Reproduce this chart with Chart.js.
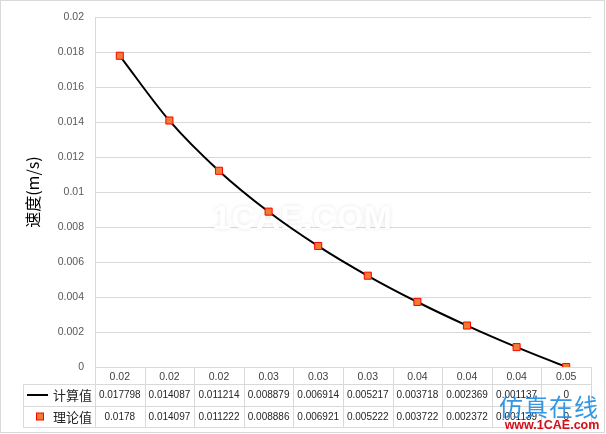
<!DOCTYPE html>
<html>
<head>
<meta charset="utf-8">
<script src="https://cdn.jsdelivr.net/npm/chart.js@4"></script>
<style>
html,body{margin:0;padding:0;background:#fff;}
#wrap{width:606px;height:434px;position:relative;}
</style>
</head>
<body>
<div id="wrap"><canvas id="c" width="606" height="434"></canvas></div>
<script>
const categories = ['0.02','0.02','0.02','0.03','0.03','0.03','0.04','0.04','0.04','0.05'];
const calcValues = [0.017798,0.014087,0.011214,0.008879,0.006914,0.005217,0.003718,0.002369,0.001137,0];
const theoryValues = [0.0178,0.014097,0.011222,0.008886,0.006921,0.005222,0.003722,0.002372,0.001139,0];
const seriesNames = ['计算值','理论值'];
const yTitle = '速度(m/s)';
const yMin = 0, yMax = 0.02, yStep = 0.002;

const GRID = '#d9d9d9';
const NUMFONT = '"Liberation Sans", Arial, sans-serif';
const CJK = '"Noto Sans CJK SC", sans-serif';

const tablePlugin = {
  id: 'tablePlugin',
  beforeDatasetsDraw(chart) {
    const ctx = chart.ctx;
    ctx.save();
    ctx.font = 'bold 34px ' + NUMFONT;
    ctx.textAlign = 'center';
    ctx.textBaseline = 'middle';
    ctx.shadowColor = 'rgba(0,0,0,0.10)';
    ctx.shadowBlur = 4;
    ctx.fillStyle = '#ffffff';
    ctx.fillText('1CAE.COM', 302, 220);
    ctx.restore();
  },
  afterDraw(chart) {
    const ctx = chart.ctx;
    const a = chart.chartArea;
    const xs = chart.scales.x;
    const n = categories.length;
    const w = (a.right - a.left) / n;
    const r0 = a.bottom, r1 = 384.5, r2 = 406.5, r3 = 427.5, tl = 23.5;
    ctx.save();
    ctx.strokeStyle = GRID;
    ctx.lineWidth = 1;
    ctx.strokeRect(0.5, 0.5, 604, 432);
    ctx.beginPath();
    const lx = Math.round(a.left) + 0.5;
    ctx.moveTo(lx, a.top); ctx.lineTo(lx, r3);
    for (let i = 1; i <= n; i++) {
      const x = Math.round(a.left + i * w) + 0.5;
      ctx.moveTo(x, r0); ctx.lineTo(x, r3);
    }
    [r1, r2, r3].forEach(y => { ctx.moveTo(tl, y); ctx.lineTo(Math.round(a.right) + 0.5, y); });
    ctx.moveTo(tl, r1); ctx.lineTo(tl, r3);
    ctx.stroke();

    ctx.textAlign = 'center';
    ctx.textBaseline = 'middle';
    ctx.font = '10.5px ' + NUMFONT;
    ctx.fillStyle = '#404040';
    categories.forEach((c, i) => {
      ctx.fillText(c, xs.getPixelForValue(i), 377);
    });
    ctx.font = '10px ' + NUMFONT;
    ctx.fillStyle = '#262626';
    calcValues.forEach((v, i) => {
      ctx.fillText(String(v), xs.getPixelForValue(i), 395.5);
    });
    theoryValues.forEach((v, i) => {
      ctx.fillText(String(v), xs.getPixelForValue(i), 417);
    });
    ctx.textAlign = 'right';
    ctx.font = '13px ' + CJK;
    ctx.fillStyle = '#262626';
    ctx.fillText(seriesNames[0], 92, 395.5);
    ctx.fillText(seriesNames[1], 92, 417);
    ctx.strokeStyle = '#000';
    ctx.lineWidth = 2;
    ctx.beginPath(); ctx.moveTo(27, 395); ctx.lineTo(48, 395); ctx.stroke();
    ctx.fillStyle = '#ed7d31';
    ctx.strokeStyle = '#ff0000';
    ctx.lineWidth = 1;
    ctx.fillRect(36.5, 413, 7, 7);
    ctx.strokeRect(36.5, 413, 7, 7);

    ctx.textAlign = 'center';
    ctx.font = '24px ' + CJK;
    ctx.fillStyle = 'rgba(30,140,225,0.9)';
    ['仿','真','在','线'].forEach((ch, i) => ctx.fillText(ch, 511 + i * 25, 407));
    ctx.font = 'bold 12.5px ' + NUMFONT;
    ctx.fillStyle = '#d0101a';
    ctx.fillText('www.1CAE.com', 552, 426);
    ctx.restore();
  }
};

new Chart(document.getElementById('c'), {
  type: 'line',
  data: {
    labels: categories,
    datasets: [
      {
        label: seriesNames[0],
        data: calcValues,
        borderColor: '#000000',
        borderWidth: 2,
        pointRadius: 0,
        fill: false,
        cubicInterpolationMode: 'monotone',
        order: 1
      },
      {
        label: seriesNames[1],
        data: theoryValues,
        showLine: false,
        pointStyle: 'rect',
        pointRadius: 5,
        backgroundColor: '#ed7d31',
        borderColor: '#ff0000',
        borderWidth: 1,
        order: 0
      }
    ]
  },
  options: {
    responsive: false,
    animation: false,
    events: [],
    layout: { padding: { top: 16, right: 15, bottom: 67, left: 0 } },
    plugins: { legend: { display: false }, tooltip: { enabled: false } },
    scales: {
      x: { type: 'category', display: false, offset: true },
      y: {
        min: yMin,
        max: yMax,
        afterFit(s) { s.width = 95; },
        border: { display: false },
        grid: { color: GRID, drawTicks: false, lineWidth: 1 },
        ticks: {
          stepSize: yStep,
          padding: 11,
          color: '#595959',
          font: { family: NUMFONT, size: 10.5 },
          callback: v => String(parseFloat(Number(v).toFixed(3)))
        },
        title: {
          display: true,
          text: yTitle,
          color: '#000000',
          font: { family: CJK, size: 16 },
          padding: { top: 23, bottom: 0 }
        }
      }
    }
  },
  plugins: [tablePlugin]
});
</script>
</body>
</html>
